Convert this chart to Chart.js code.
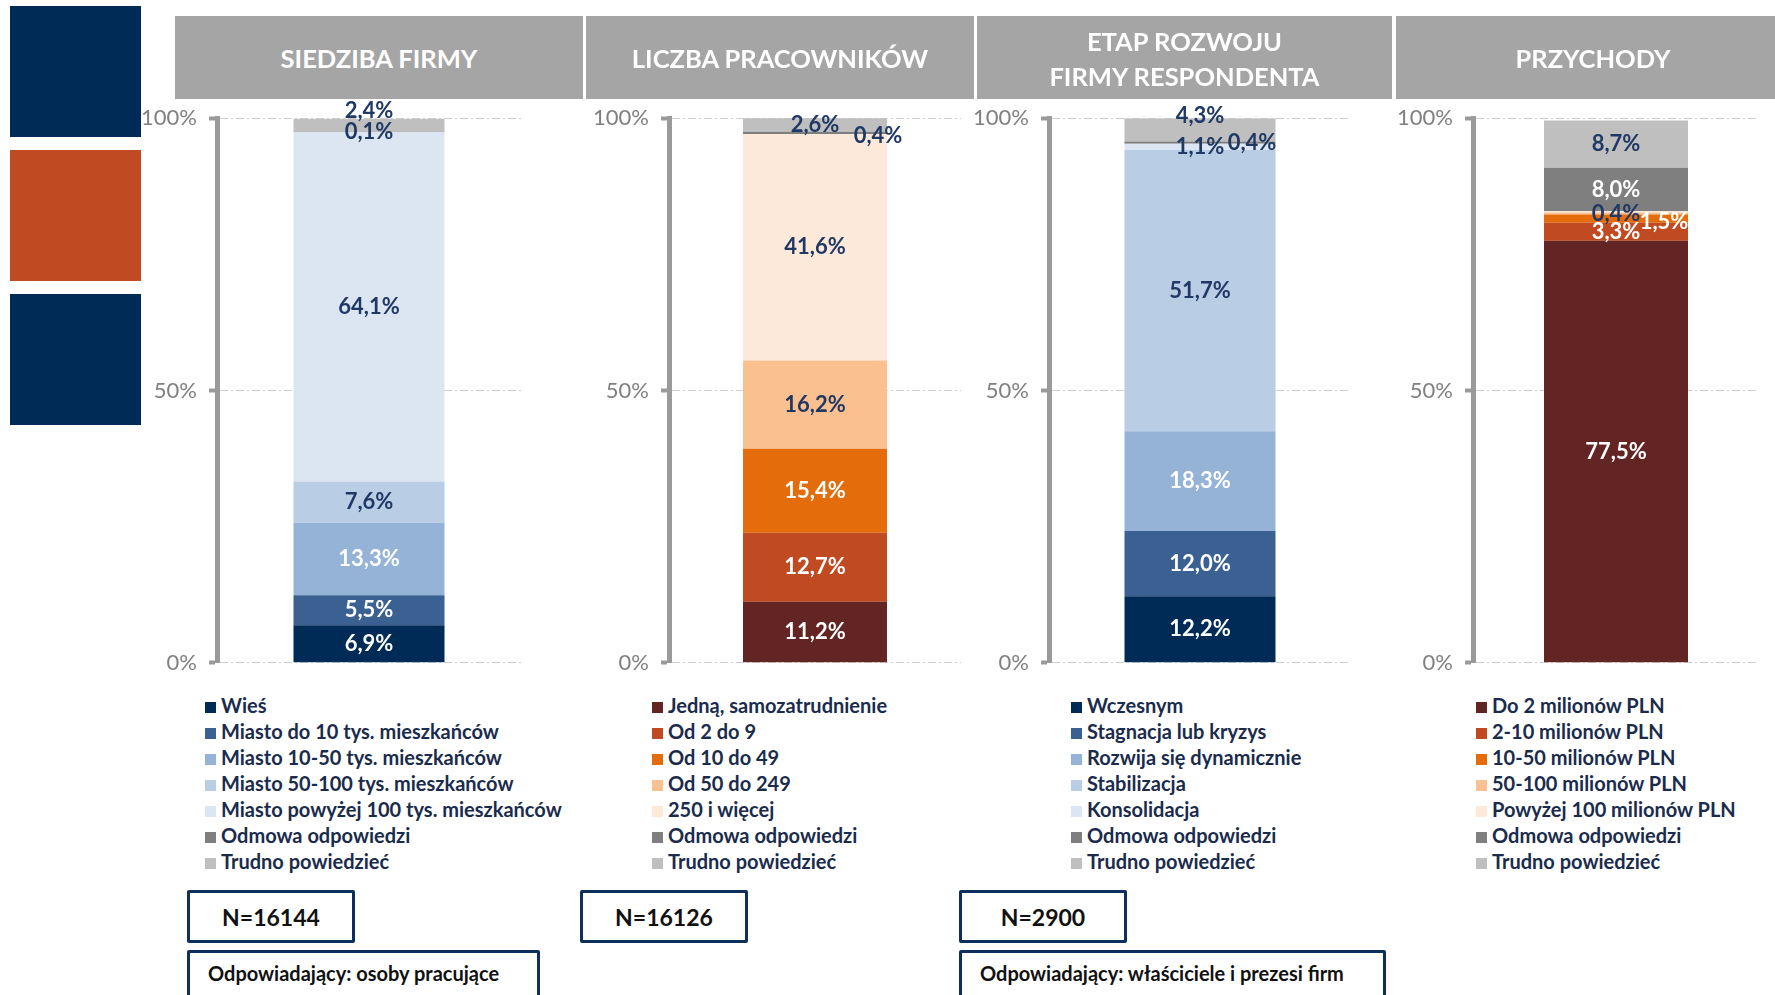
<!DOCTYPE html>
<html>
<head>
<meta charset="utf-8">
<title>Profil respondentów</title>
<script src="https://cdn.jsdelivr.net/npm/chart.js@4.4.1/dist/chart.umd.min.js"></script>
<style>
  body { margin: 0; width: 1775px; height: 995px; overflow: hidden; background: #fff; font-family: Lato, "Open Sans", sans-serif; position: relative; }
  .sq { position: absolute; left: 10px; width: 131px; height: 131px; }
  .head { position: absolute; top: 16px; height: 83px; background: #a5a5a5; color: #fff; font-weight: bold; font-size: 25.5px; display: flex; align-items: center; justify-content: center; text-align: center; line-height: 35px; z-index: 2; padding-top: 2px; box-sizing: border-box; }
  .box { position: absolute; z-index: 1; }
  .legend { position: absolute; top: 693px; font-weight: bold; font-size: 20px; color: #1a2b4c; }
  .legend div { height: 26px; line-height: 24px; white-space: nowrap; }
  .legend span { display: inline-block; width: 11px; height: 11px; margin-right: 5px; vertical-align: 0px; }
  .nbox { position: absolute; top: 890px; height: 47px; width: 162px; border: 3px solid #0d2f5e; border-radius: 2px; font-weight: bold; font-size: 23px; color: #111; display: flex; align-items: center; justify-content: center; }
  .rbox { position: absolute; top: 950px; height: 60px; border: 3px solid #0d2f5e; border-radius: 2px; font-weight: bold; font-size: 20px; color: #111; padding-left: 18px; line-height: 40px; }
</style>
</head>
<body>
<div class="sq" style="top:6px;background:#002b56"></div>
<div class="sq" style="top:150px;background:#c04b22"></div>
<div class="sq" style="top:294px;background:#002b56"></div>

<div class="head" style="left:175px;width:408px">SIEDZIBA FIRMY</div>
<div class="head" style="left:586px;width:388px">LICZBA PRACOWNIKÓW</div>
<div class="head" style="left:977px;width:415px">ETAP ROZWOJU<br>FIRMY RESPONDENTA</div>
<div class="head" style="left:1396px;width:379px;padding-left:15px">PRZYCHODY</div>

<div class="box" id="b0"><canvas id="c0"></canvas></div>
<div class="box" id="b1"><canvas id="c1"></canvas></div>
<div class="box" id="b2"><canvas id="c2"></canvas></div>
<div class="box" id="b3"><canvas id="c3"></canvas></div>

<div class="legend" id="l0" style="left:205px"></div>
<div class="legend" id="l1" style="left:652px"></div>
<div class="legend" id="l2" style="left:1071px"></div>
<div class="legend" id="l3" style="left:1476px"></div>

<div class="nbox" style="left:187px">N=16144</div>
<div class="nbox" style="left:580px">N=16126</div>
<div class="nbox" style="left:959px">N=2900</div>
<div class="rbox" style="left:187px;width:329px">Odpowiadający: osoby pracujące</div>
<div class="rbox" style="left:959px;width:403px">Odpowiadający: właściciele i prezesi firm</div>

<script>
// dane
var siedzibaLabels = ['Wieś', 'Miasto do 10 tys. mieszkańców', 'Miasto 10-50 tys. mieszkańców', 'Miasto 50-100 tys. mieszkańców', 'Miasto powyżej 100 tys. mieszkańców', 'Odmowa odpowiedzi', 'Trudno powiedzieć'];
var siedzibaValues = [6.9, 5.5, 13.3, 7.6, 64.1, 0.1, 2.4];

var pracownicyLabels = ['Jedną, samozatrudnienie', 'Od 2 do 9', 'Od 10 do 49', 'Od 50 do 249', '250 i więcej', 'Odmowa odpowiedzi', 'Trudno powiedzieć'];
var pracownicyValues = [11.2, 12.7, 15.4, 16.2, 41.6, 0.4, 2.6];

var etapLabels = ['Wczesnym', 'Stagnacja lub kryzys', 'Rozwija się dynamicznie', 'Stabilizacja', 'Konsolidacja', 'Odmowa odpowiedzi', 'Trudno powiedzieć'];
var etapValues = [12.2, 12.0, 18.3, 51.7, 1.1, 0.4, 4.3];

var przychodyLabels = ['Do 2 milionów PLN', '2-10 milionów PLN', '10-50 milionów PLN', '50-100 milionów PLN', 'Powyżej 100 milionów PLN', 'Odmowa odpowiedzi', 'Trudno powiedzieć'];
var przychodyValues = [77.5, 3.3, 1.5, 0.4, 0.2, 8.0, 8.7];

var yTicks = [0, 50, 100];

// kolory
var blues = ['#002b56', '#3a6191', '#95b3d7', '#b9cde5', '#dce6f2', '#7f7f7f', '#bfbfbf'];
var oranges = ['#632523', '#c04b22', '#e46c0a', '#fac090', '#fde9d9', '#7f7f7f', '#bfbfbf'];
var W = '#ffffff', D = '#1f3864';

var charts = [
  { id: 0, labels: siedzibaLabels, values: siedzibaValues, colors: blues,
    text: [W, W, W, D, D, D, D], axisX: 217, gridEnd: 521, barW: 151,
    shift: { 6: [0, -14] } },
  { id: 1, labels: pracownicyLabels, values: pracownicyValues, colors: oranges,
    text: [W, W, W, D, D, D, D], axisX: 669, gridEnd: 961, barW: 144,
    shift: { 5: [63, 3] } },
  { id: 2, labels: etapLabels, values: etapValues, colors: blues,
    text: [W, W, W, D, D, D, D], axisX: 1049, gridEnd: 1351, barW: 151,
    shift: { 5: [52, 0], 6: [0, -14] } },
  { id: 3, labels: przychodyLabels, values: przychodyValues, colors: oranges,
    text: [W, W, W, D, D, W, D], axisX: 1473, gridEnd: 1759, barW: 144,
    shift: { 2: [48, 3] }, hide: [4] }
];

var fmt = function(v) { return v.toFixed(1).replace('.', ',') + '%'; };

var segLabels = {
  id: 'segLabels',
  afterDatasetsDraw: function(chart) {
    var cfg = chart.options.plugins.segLabels;
    var ctx = chart.ctx;
    ctx.save();
    ctx.font = 'bold 22px Lato, "Open Sans", sans-serif';
    ctx.textAlign = 'center';
    ctx.textBaseline = 'middle';
    chart.data.datasets.forEach(function(ds, i) {
      if (cfg.hide && cfg.hide.indexOf(i) >= 0) return;
      var el = chart.getDatasetMeta(i).data[0];
      var s = cfg.shift[i] || [0, 0];
      ctx.fillStyle = cfg.text[i];
      ctx.fillText(fmt(ds.data[0]), el.x + s[0], (el.y + el.base) / 2 + s[1]);
    });
    ctx.restore();
  }
};

// obszar wykresu: 100% na y=118, 0% na y=662
var TOP = 118, BOTTOM = 662, LW = 90, OFF_T = 25, OFF_B = 26;

charts.forEach(function(c) {
  var box = document.getElementById('b' + c.id);
  var width = c.gridEnd - c.axisX + LW;
  box.style.left = (c.axisX - LW) + 'px';
  box.style.top = (TOP - OFF_T) + 'px';
  box.style.width = width + 'px';
  box.style.height = (BOTTOM - TOP + OFF_T + OFF_B) + 'px';

  var legend = document.getElementById('l' + c.id);
  legend.innerHTML = c.labels.map(function(l, i) {
    return '<div><span style="background:' + c.colors[i] + '"></span>' + l + '</div>';
  }).join('');

  new Chart(document.getElementById('c' + c.id), {
    type: 'bar',
    data: {
      labels: [''],
      datasets: c.labels.map(function(l, i) {
        return { label: l, data: [c.values[i]], backgroundColor: c.colors[i],
                 borderWidth: 0, categoryPercentage: 1,
                 barPercentage: c.barW / (c.gridEnd - c.axisX) };
      })
    },
    options: {
      responsive: true,
      maintainAspectRatio: false,
      animation: false,
      layout: { padding: { top: 19, bottom: 19, left: 0, right: 0 } },
      plugins: {
        legend: { display: false },
        tooltip: { enabled: false },
        segLabels: { text: c.text, shift: c.shift, hide: c.hide }
      },
      scales: {
        x: { stacked: true, display: false },
        y: {
          stacked: true,
          min: 0, max: 100,
          afterBuildTicks: function(axis) { axis.ticks = yTicks.map(function(v) { return { value: v }; }); },
          afterFit: function(axis) { axis.width = LW; },
          ticks: {
            padding: 12,
            color: '#808080',
            font: { family: 'Lato, "Open Sans", sans-serif', size: 22 },
            callback: function(v) { return v + '%'; }
          },
          grid: {
            color: '#d0d0d0',
            lineWidth: 1,
            tickColor: '#9a9a9a',
            tickWidth: 4,
            tickLength: 8,
            tickBorderDash: []
          },
          border: { display: true, color: '#9a9a9a', width: 5, dash: [8, 3, 2, 3] }
        }
      }
    },
    plugins: [segLabels]
  });
});
</script>
</body>
</html>
